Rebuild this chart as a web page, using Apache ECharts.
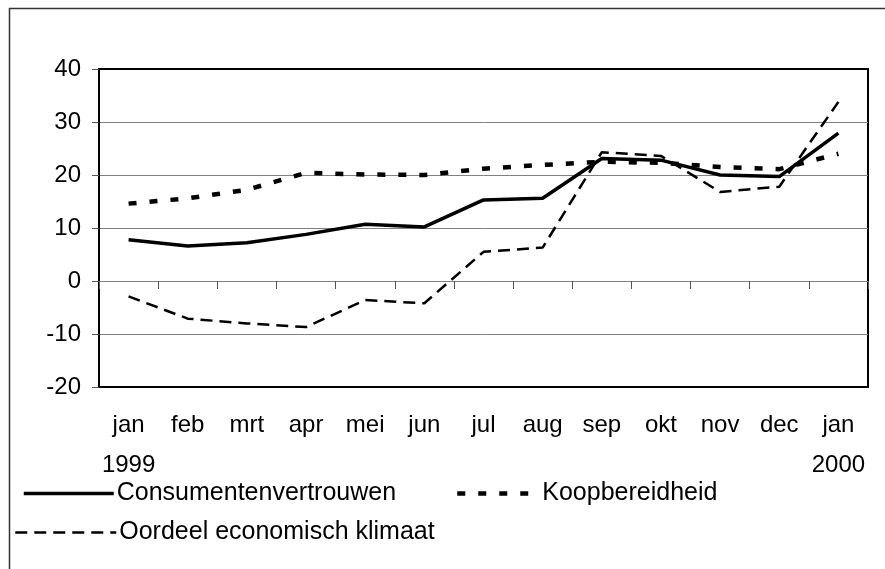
<!DOCTYPE html>
<html>
<head>
<meta charset="utf-8">
<style>
  html, body { margin: 0; padding: 0; background: #fff; }
  #chart { width: 885px; height: 569px; }
</style>
<script src="https://cdn.jsdelivr.net/npm/echarts@6/dist/echarts.min.js"></script>
</head>
<body>
<div id="chart"></div>
<script>
const months = ['jan', 'feb', 'mrt', 'apr', 'mei', 'jun', 'jul', 'aug', 'sep', 'okt', 'nov', 'dec', 'jan']
const years = ['1999', '', '', '', '', '', '', '', '', '', '', '', '2000']
const yTicks = { min: -20, max: 40, step: 10 }

const consumentenvertrouwen = [7.8, 6.6, 7.2, 8.8, 10.7, 10.2, 15.3, 15.6, 23.1, 22.8, 20.0, 19.7, 27.9]
const koopbereidheid = [14.6, 15.6, 17.2, 20.4, 20.1, 20.0, 21.2, 21.9, 22.5, 22.3, 21.5, 21.1, 24.0]
const oordeelKlimaat = [-2.9, -7.1, -8.0, -8.7, -3.6, -4.2, 5.5, 6.3, 24.3, 23.6, 16.8, 17.8, 33.8]

const categories = months.map((m, i) => years[i] ? m + '\n' + years[i] : m)

const font = 'Liberation Sans, Arial, sans-serif'
const chart = echarts.init(document.getElementById('chart'))

// one legend per item so each sits where Excel put it
function legendAt(name, left, top, itemWidth, lineWidth) {
  return {
    data: [name],
    left: left,
    top: top,
    padding: 0,
    itemWidth: itemWidth,
    itemHeight: 14,
    itemGap: 0,
    selectedMode: false,
    itemStyle: { opacity: 0 },
    lineStyle: { width: lineWidth },
    textStyle: { color: '#000', fontSize: 25, fontFamily: font, padding: [0, 0, 0, -2] },
  }
}

const option = {
  animation: false,
  backgroundColor: '#fff',
  graphic: [
    { type: 'line', shape: { x1: 9.5, y1: 8, x2: 9.5, y2: 569 }, style: { stroke: '#333', lineWidth: 1.5 } },
    { type: 'line', shape: { x1: 9, y1: 8.5, x2: 885, y2: 8.5 }, style: { stroke: '#333', lineWidth: 1.5 } },
  ],
  legend: [
    legendAt('Consumentenvertrouwen', 22, 481, 90, 3.5),
    legendAt('Koopbereidheid', 455, 481, 82, 4.5),
    legendAt('Oordeel economisch klimaat', 14, 520, 101, 2.5),
  ],
  grid: {
    left: 99,
    right: 17,
    top: 69,
    bottom: 182,
    show: true,
    borderColor: '#000',
    borderWidth: 2,
  },
  xAxis: [
    {
      type: 'category',
      data: categories,
      boundaryGap: true,
      axisLine: { onZero: true, lineStyle: { color: '#808080', width: 1 } },
      axisTick: { show: true, length: 8, lineStyle: { color: '#555', width: 1 } },
      axisLabel: { show: false },
      splitLine: { show: false },
    },
    {
      type: 'category',
      data: categories,
      position: 'bottom',
      boundaryGap: true,
      axisLine: { show: false, onZero: false },
      axisTick: { show: false },
      axisLabel: {
        margin: 18,
        fontSize: 24,
        lineHeight: 40,
        color: '#000',
        fontFamily: font,
        interval: 0,
      },
    },
  ],
  yAxis: {
    type: 'value',
    min: yTicks.min,
    max: yTicks.max,
    interval: yTicks.step,
    axisLine: { show: true, lineStyle: { color: '#000', width: 2 } },
    axisTick: { show: true, length: 7, lineStyle: { color: '#555', width: 1 } },
    axisLabel: { margin: 18, fontSize: 24, color: '#000', fontFamily: font },
    splitLine: { show: true, showMinLine: false, showMaxLine: false, lineStyle: { color: '#808080', width: 1 } },
  },
  series: [
    {
      name: 'Consumentenvertrouwen',
      type: 'line',
      data: consumentenvertrouwen,
      symbol: 'none',
      lineStyle: { color: '#000', width: 3.5 },
      itemStyle: { color: '#000' },
    },
    {
      name: 'Koopbereidheid',
      type: 'line',
      data: koopbereidheid,
      symbol: 'none',
      lineStyle: { color: '#000', width: 4.5, type: [8, 13], cap: 'butt' },
      itemStyle: { color: '#000' },
    },
    {
      name: 'Oordeel economisch klimaat',
      type: 'line',
      data: oordeelKlimaat,
      symbol: 'none',
      lineStyle: { color: '#000', width: 2.5, type: [12, 7], cap: 'butt' },
      itemStyle: { color: '#000' },
    },
  ],
}

chart.setOption(option)
</script>
</body>
</html>
